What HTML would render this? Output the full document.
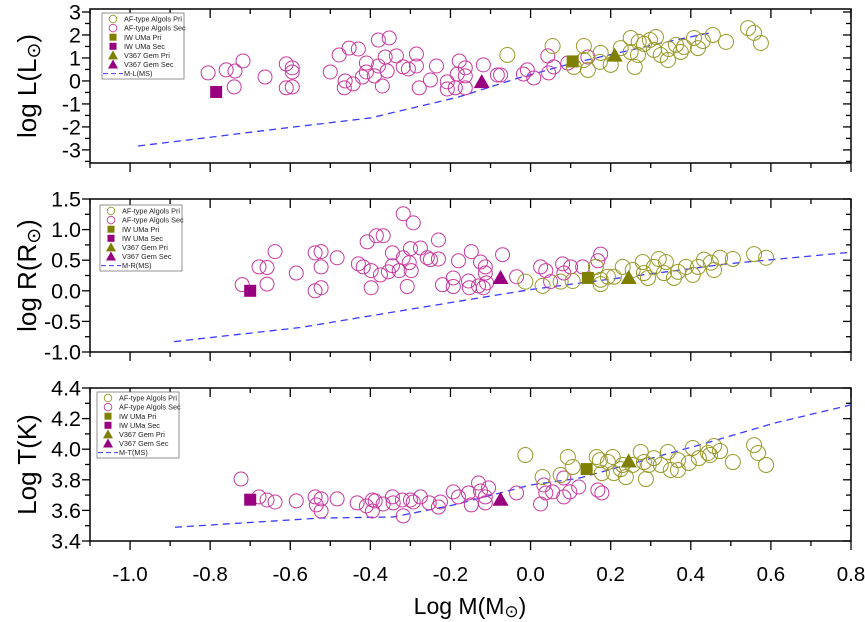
<!DOCTYPE html>
<html><head><meta charset="utf-8"><style>
body{margin:0;background:#fff;}
svg{display:block;font-family:"Liberation Sans",sans-serif;}
</style></head><body>
<svg id="chart" width="865" height="622" viewBox="0 0 865 622" xmlns="http://www.w3.org/2000/svg"></svg>
<script>
// ---- data ----
const xTicks=[-1.0,-0.8,-0.6,-0.4,-0.2,0.0,0.2,0.4,0.6,0.8];
const xTickLabels=["-1.0","-0.8","-0.6","-0.4","-0.2","0.0","0.2","0.4","0.6","0.8"];
// Panel L
const L_secX=[-0.805,-0.76,-0.738,-0.718,-0.74,-0.663,-0.61,-0.595,-0.595,-0.61,-0.595,-0.5,-0.478,-0.453,-0.43,-0.38,-0.353,-0.463,-0.465,-0.443,-0.41,-0.41,-0.42,-0.39,-0.38,-0.363,-0.358,-0.37,-0.335,-0.318,-0.305,-0.285,-0.285,-0.235,-0.25,-0.278,-0.208,-0.208,-0.178,-0.163,-0.183,-0.163,-0.188,-0.163,-0.118,-0.083,-0.018,-0.075,-0.008,0.008,0.043,0.045,0.058,0.093,0.143];
const L_secY=[0.35,0.48,0.43,0.87,-0.26,0.17,0.74,0.57,0.39,-0.30,-0.26,0.39,1.13,1.43,1.39,1.78,1.87,0.0,-0.30,-0.13,0.78,0.39,0.17,0.22,0.65,1.04,0.43,-0.22,1.09,0.61,0.52,1.17,0.65,0.65,0.04,-0.30,-0.04,-0.35,0.87,0.57,0.30,0.22,-0.30,-0.30,0.70,0.26,0.30,0.26,0.48,0.13,1.09,0.35,0.61,0.78,1.04];
const L_priX=[-0.058,0.055,0.133,0.108,0.143,0.133,0.175,0.173,0.2,0.225,0.25,0.27,0.25,0.268,0.26,0.283,0.298,0.313,0.308,0.325,0.343,0.345,0.363,0.375,0.383,0.408,0.418,0.43,0.455,0.488,0.543,0.558,0.575];
const L_priY=[1.13,1.52,1.52,0.61,0.48,0.91,1.22,0.83,0.70,1.43,1.87,1.70,1.26,1.13,0.61,1.61,1.78,1.91,1.35,1.13,0.91,1.39,1.57,1.26,1.48,1.87,1.43,1.74,2.0,1.70,2.30,2.09,1.65];
const L_lineX=[-0.98,-0.8,-0.633,-0.4,-0.18,-0.03,0.1,0.34,0.45];
const L_lineY=[-2.83,-2.45,-2.09,-1.61,-0.70,0.13,0.75,1.7,2.1];
const L_iw=[[0.105,0.85],[-0.785,-0.48]];
const L_v367=[[0.21,1.1],[-0.122,-0.05]];
// Panel R
const R_secX=[-0.72,-0.678,-0.658,-0.638,-0.658,-0.585,-0.538,-0.523,-0.523,-0.538,-0.523,-0.483,-0.43,-0.418,-0.398,-0.375,-0.355,-0.345,-0.345,-0.328,-0.318,-0.303,-0.298,-0.3,-0.275,-0.258,-0.25,-0.23,-0.308,-0.398,-0.408,-0.385,-0.368,-0.318,-0.293,-0.23,-0.22,-0.193,-0.193,-0.18,-0.155,-0.153,-0.148,-0.125,-0.113,-0.113,-0.13,-0.11,-0.118,-0.07,-0.035,0.025,0.038,0.05,0.08,0.1,0.13,0.168,0.175,0.083];
const R_secY=[0.10,0.39,0.38,0.64,0.11,0.29,0.62,0.64,0.39,0.0,0.05,0.54,0.44,0.39,0.33,0.26,0.31,0.41,0.62,0.33,0.54,0.46,0.33,0.69,0.70,0.54,0.51,0.52,0.07,0.05,0.80,0.90,0.90,1.26,1.11,0.83,0.10,0.21,0.07,0.49,0.16,0.05,0.64,0.47,0.39,0.29,0.08,0.13,0.05,0.59,0.23,0.39,0.33,0.15,0.44,0.39,0.39,0.49,0.60,0.29];
const R_priX=[-0.013,0.03,0.075,0.105,0.163,0.175,0.175,0.193,0.208,0.23,0.255,0.28,0.283,0.293,0.308,0.32,0.338,0.333,0.358,0.368,0.388,0.405,0.418,0.433,0.45,0.458,0.473,0.505,0.558,0.588];
const R_priY=[0.15,0.08,0.15,0.16,0.39,0.18,0.11,0.23,0.23,0.39,0.34,0.47,0.29,0.21,0.39,0.52,0.47,0.29,0.21,0.31,0.39,0.26,0.39,0.51,0.46,0.34,0.54,0.52,0.60,0.54];
const R_lineX=[-0.89,-0.575,-0.41,-0.16,0.0,0.49,0.8];
const R_lineY=[-0.83,-0.60,-0.42,-0.15,0.02,0.44,0.63];
const R_iw=[[0.143,0.21],[-0.7,0.0]];
const R_v367=[[0.245,0.21],[-0.075,0.21]];
// Panel T
const T_secX=[-0.723,-0.678,-0.658,-0.638,-0.585,-0.538,-0.523,-0.535,-0.523,-0.483,-0.433,-0.41,-0.395,-0.388,-0.395,-0.368,-0.345,-0.343,-0.32,-0.318,-0.3,-0.293,-0.275,-0.253,-0.23,-0.225,-0.193,-0.18,-0.155,-0.148,-0.13,-0.125,-0.105,-0.113,-0.113,-0.035,0.033,0.038,0.025,0.055,0.083,0.098,0.12,0.083,0.168,0.178];
const T_secY=[3.805,3.688,3.668,3.655,3.662,3.688,3.675,3.636,3.596,3.675,3.649,3.629,3.668,3.662,3.596,3.642,3.688,3.649,3.668,3.564,3.668,3.655,3.688,3.649,3.622,3.655,3.721,3.688,3.714,3.636,3.779,3.727,3.747,3.688,3.649,3.714,3.766,3.714,3.642,3.721,3.688,3.721,3.753,3.812,3.733,3.714];
const T_priX=[-0.013,0.03,0.075,0.093,0.105,0.165,0.173,0.193,0.205,0.178,0.208,0.225,0.238,0.23,0.255,0.275,0.283,0.295,0.288,0.308,0.325,0.343,0.35,0.368,0.368,0.395,0.405,0.42,0.443,0.458,0.448,0.473,0.505,0.558,0.568,0.588];
const T_priY=[3.962,3.818,3.831,3.949,3.884,3.949,3.929,3.916,3.949,3.844,3.844,3.870,3.818,3.897,3.897,3.982,3.916,3.897,3.805,3.942,3.897,3.982,3.864,3.929,3.864,3.910,4.008,3.942,3.975,4.021,3.962,3.988,3.916,4.027,3.975,3.897];
const T_lineX=[-0.888,-0.525,-0.343,-0.193,0.0,0.12,0.425,0.608,0.8];
const T_lineY=[3.49,3.55,3.557,3.635,3.766,3.81,4.03,4.17,4.29];
const T_iw=[[0.14,3.87],[-0.7,3.67]];
const T_v367=[[0.245,3.92],[-0.075,3.67]];

// ---- drawing ----
const NS="http://www.w3.org/2000/svg";
const svg=document.getElementById('chart');
function el(tag,attrs,parent){const e=document.createElementNS(NS,tag);for(const k in attrs)e.setAttribute(k,attrs[k]);(parent||svg).appendChild(e);return e;}
const X0=90,X1=851,XMIN=-1.1,XMAX=0.8;
function xs(v){return X0+(v-XMIN)/(XMAX-XMIN)*(X1-X0);}
const PRI="#9a9a2a",SEC="#c8399f",PRIF="#7f7f00",SECF="#990080";

const panels=[
 {id:'luminosity',top:9,bot:163,ymin:-3.57,ymax:3.13,major:[-3,-2,-1,0,1,2,3],majorLbl:["-3","-2","-1","0","1","2","3"],minorStep:0.5,title:'log L(L',tx:36,
  secX:L_secX,secY:L_secY,priX:L_priX,priY:L_priY,lx:L_lineX,ly:L_lineY,iw:L_iw,v:L_v367,leg:[102,13],lineName:'M-L(MS)'},
 {id:'radius',top:199,bot:352,ymin:-1.0,ymax:1.5,major:[-1,-0.5,0,0.5,1,1.5],majorLbl:["-1.0","-0.5","0.0","0.5","1.0","1.5"],minorStep:0.25,title:'log R(R',tx:36,
  secX:R_secX,secY:R_secY,priX:R_priX,priY:R_priY,lx:R_lineX,ly:R_lineY,iw:R_iw,v:R_v367,leg:[100,205],lineName:'M-R(MS)'},
 {id:'temperature',top:388,bot:541,ymin:3.4,ymax:4.4,major:[3.4,3.6,3.8,4.0,4.2,4.4],majorLbl:["3.4","3.6","3.8","4.0","4.2","4.4"],minorStep:0.1,title:'Log T(K)',tx:36,
  secX:T_secX,secY:T_secY,priX:T_priX,priY:T_priY,lx:T_lineX,ly:T_lineY,iw:T_iw,v:T_v367,leg:[97,392],lineName:'M-T(MS)'}
];

panels.forEach((p,pi)=>{
 const g=el('g',{});
 
 
 const ys=v=>p.bot-(v-p.ymin)/(p.ymax-p.ymin)*(p.bot-p.top);
 const fr=el('rect',{x:X0,y:p.top,width:X1-X0,height:p.bot-p.top,fill:'none',stroke:'#000','stroke-width':1.5},g);
 
 
 for(let k=-11;k<=8;k++){const v=k/10;const x=xs(v);const maj=(k%2===0);
  el('line',{x1:x,y1:p.bot,x2:x,y2:p.bot+(maj?9:5),stroke:'#000','stroke-width':1.3},g);
  el('line',{x1:x,y1:p.top,x2:x,y2:p.top+(maj?9:5),stroke:'#000','stroke-width':1.3},g);}
 let start=Math.ceil(p.ymin/p.minorStep-1e-6)*p.minorStep;
 for(let v=start;v<=p.ymax+1e-6;v+=p.minorStep){const y=ys(v);
  const maj=p.major.some(m=>Math.abs(m-v)<1e-6);
  el('line',{x1:X0,y1:y,x2:X0-(maj?8:5),y2:y,stroke:'#000','stroke-width':1.3},g);
  el('line',{x1:X1,y1:y,x2:X1-(maj?8:5),y2:y,stroke:'#000','stroke-width':1.3},g);}
 p.major.forEach((m,i)=>{const t=el('text',{x:X0-9,y:ys(m)+7.5,'text-anchor':'end','font-size':21.5,fill:'#000'},g);t.textContent=p.majorLbl[i];
  
  });
 const cy=(p.top+p.bot)/2;
 const tt=el('text',{x:0,y:0,transform:`translate(${p.tx},${cy}) rotate(-90)`,'text-anchor':'middle','font-size':26,fill:'#000'},g);
 
 
 if(pi<2){tt.textContent=p.title;const s=el('tspan',{'font-size':19,dy:4},tt);s.textContent='\u2299';const s2=el('tspan',{dy:-4},tt);s2.textContent=')';}
 else tt.textContent=p.title;
 const pts=p.lx.map((x,i)=>xs(x)+','+ys(p.ly[i])).join(' ');
 const pl=el('polyline',{points:pts,fill:'none',stroke:'#3a3aff','stroke-width':1.3,'stroke-dasharray':'7,5'},g);
 
 
 p.secX.forEach((x,i)=>{const c=el('circle',{cx:xs(x),cy:ys(p.secY[i]),r:7,fill:'none',stroke:SEC,'stroke-width':1},g);
  
  });
 p.priX.forEach((x,i)=>{const c=el('circle',{cx:xs(x),cy:ys(p.priY[i]),r:7.5,fill:'none',stroke:PRI,'stroke-width':1},g);
  
  });
 [[p.iw[0],PRIF,'iw-uma-primary'],[p.iw[1],SECF,'iw-uma-secondary']].forEach(([d,c,n])=>{
  const r=el('rect',{x:xs(d[0])-6,y:ys(d[1])-6,width:12,height:12,fill:c},g);
  
  });
 [[p.v[0],PRIF,'v367-gem-primary'],[p.v[1],SECF,'v367-gem-secondary']].forEach(([d,c,n])=>{
  const X=xs(d[0]),Y=ys(d[1]);
  const t=el('polygon',{points:`${X-8},${Y+6} ${X+8},${Y+6} ${X},${Y-8}`,fill:c},g);
  
  });
 const [lx,ly]=p.leg;
 const lg=el('g',{},g);
 
 
 el('rect',{x:lx,y:ly,width:82,height:66,fill:'#fff',stroke:'#777','stroke-width':0.8},lg);
 const names=['AF-type Algols Pri','AF-type Algols Sec','IW UMa Pri','IW UMa Sec','V367 Gem Pri','V367 Gem Sec',p.lineName];
 names.forEach((n,i)=>{const yy=ly+6+i*9.1;const mx=lx+11;
  if(i===0)el('circle',{cx:mx,cy:yy,r:3.8,fill:'none',stroke:PRI,'stroke-width':0.9},lg);
  if(i===1)el('circle',{cx:mx,cy:yy,r:3.8,fill:'none',stroke:SEC,'stroke-width':0.9},lg);
  if(i===2)el('rect',{x:mx-3.5,y:yy-3.5,width:7,height:7,fill:PRIF},lg);
  if(i===3)el('rect',{x:mx-3.5,y:yy-3.5,width:7,height:7,fill:SECF},lg);
  if(i===4)el('polygon',{points:`${mx-5},${yy+4} ${mx+5},${yy+4} ${mx},${yy-5}`,fill:PRIF},lg);
  if(i===5)el('polygon',{points:`${mx-5},${yy+4} ${mx+5},${yy+4} ${mx},${yy-5}`,fill:SECF},lg);
  if(i===6)el('line',{x1:lx+1,y1:yy,x2:lx+21,y2:yy,stroke:'#3a3aff','stroke-width':1,'stroke-dasharray':'5,3'},lg);
  const t=el('text',{x:lx+22,y:yy+2.6,'font-size':7.3,fill:'#222'},lg);t.textContent=n;
  
  });
});
xTicks.forEach((v,i)=>{const t=el('text',{x:xs(v),y:581,'text-anchor':'middle','font-size':20.5,fill:'#000'});t.textContent=xTickLabels[i];
 
 });
const xt=el('text',{x:470,y:614,'text-anchor':'middle','font-size':23,fill:'#000'});


xt.textContent='Log M(M';const s=el('tspan',{'font-size':17,dy:3},xt);s.textContent='\u2299';const s2=el('tspan',{dy:-3},xt);s2.textContent=')';
</script>
</body></html>
